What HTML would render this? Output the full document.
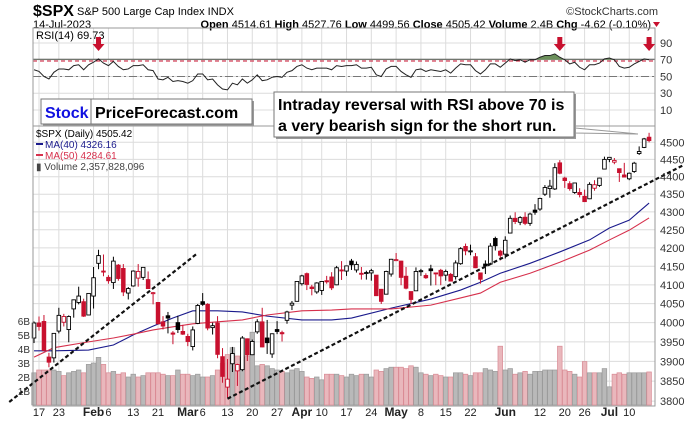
<!DOCTYPE html>
<html><head><meta charset="utf-8"><style>
html,body{margin:0;padding:0;background:#fff;width:700px;height:421px;overflow:hidden;font-family:"Liberation Sans",sans-serif}
svg text{font-family:"Liberation Sans",sans-serif}
</style></head><body>
<svg id="chart" width="700" height="421" viewBox="0 0 700 421" xmlns="http://www.w3.org/2000/svg">
<g>
<text x="33" y="16" font-size="16" font-weight="bold" fill="#000">$SPX</text>
<text x="77" y="15" font-size="11" fill="#000">S&amp;P 500 Large Cap Index  INDX</text>
<text x="658" y="15" font-size="11" fill="#333" text-anchor="end">©StockCharts.com</text>
<text x="33" y="28" font-size="11" fill="#000">14-Jul-2023</text>
<text x="651" y="28" font-size="11" fill="#000" text-anchor="end"><tspan font-weight="bold">Open</tspan> 4514.61 <tspan font-weight="bold">High</tspan> 4527.76 <tspan font-weight="bold">Low</tspan> 4499.56 <tspan font-weight="bold">Close</tspan> 4505.42 <tspan font-weight="bold">Volume</tspan> 2.4B <tspan font-weight="bold">Chg</tspan> -4.62 (-0.10%)</text>
<polygon points="653,22 660,22 656.5,27" fill="#c8102e"/>
</g>
<g id="grid"></g>
<g id="rsi"></g>
<g id="vol"></g>
<g id="ma"></g>
<g id="candles"></g>
<g id="trend"></g>
<g id="axes"></g>
<g id="annot">
<rect x="33" y="28" width="622" height="98" fill="none" stroke="#999"/>
<rect x="33" y="126" width="622" height="280" fill="none" stroke="#999"/>
<text x="36" y="39" font-size="11" fill="#000">RSI(14) 69.73</text>
<g>
<rect x="43" y="101" width="211" height="25" fill="#999"/>
<rect x="41" y="99" width="211" height="25" fill="#fff" stroke="#777"/>
<line x1="91" y1="99" x2="91" y2="124" stroke="#777"/>
<text x="45" y="118" font-size="16" font-weight="bold" fill="#1010e0">Stock</text>
<text x="95" y="118" font-size="16" font-weight="bold" fill="#000">PriceForecast.com</text>
</g>
<g>
<polygon points="575,128 638,134 575,133" fill="#fff" stroke="#999"/>
<rect x="276" y="94" width="300" height="45" fill="#999"/>
<rect x="274" y="92" width="300" height="45" fill="#fff" stroke="#777"/>
<text x="278" y="110" font-size="16" font-weight="bold" fill="#000">Intraday reversal with RSI above 70 is</text>
<text x="278" y="131" font-size="16" font-weight="bold" fill="#000">a very bearish sign for the short run.</text>
</g>
<g font-size="10">
<text x="36" y="137" fill="#000">$SPX (Daily) 4505.42</text>
<rect x="36" y="143" width="7" height="2" fill="#1a1a8c"/>
<text x="45" y="148" fill="#1a1a8c">MA(40) 4326.16</text>
<rect x="36" y="154" width="7" height="2" fill="#d6304c"/>
<text x="45" y="159" fill="#d6304c">MA(50) 4284.61</text>
<text x="36" y="170" fill="#444">▮ Volume 2,357,828,096</text>
</g>
</g>
<g id="arrows"></g>
</svg>
<script>
const NS="http://www.w3.org/2000/svg";
// Data: index 0 = 13-Jan-2023
const opens=[3960,3999,4003,3911,3909,3978,4001,3982,4036,4053,4055,4020,
4070,4158,4137,4120,4106,4153,4144,4078,4097,4118,4120,4114,4077,4053,4002,4018,3973,4000,3977,
3964,3938,3998,4055,4048,3987,3999,3912,3835,3894,3876,3879,3958,3917,3976,4002,3960,3919,3982,3974,4006,4046,4056,
4103,4130,4094,4081,4085,4111,4121,4100,4140,4137,4164,4140,4131,4133,4132,4126,4088,4075,4129,
4166,4164,4123,4082,4084,4137,4125,4143,4132,4139,4126,4128,4122,4157,4204,4190,4176,4132,4156,4156,4226,4191,
4183,4241,4282,4271,4285,4268,4305,4308,4350,4366,4365,4440,4396,4380,4355,4355,4344,4337,4367,4375,4422,
4450,4442,4423,4405,4394,4415,4467,4485,4515];
const highs=[4003,4016,4020,3922,3972,4039,4023,4019,4061,4095,4063,4077,
4148,4195,4182,4126,4176,4156,4156,4094,4139,4156,4148,4136,4081,4053,4017,4028,3978,4018,3994,
3971,3990,4049,4078,4051,4000,4017,3934,3906,3937,3894,3965,3959,3956,4009,4039,4007,3972,4004,3979,4031,4057,4110,
4127,4133,4100,4107,4110,4124,4134,4151,4164,4152,4170,4163,4148,4138,4143,4126,4089,4138,4170,
4186,4165,4148,4082,4147,4143,4131,4154,4133,4143,4141,4132,4166,4202,4212,4209,4186,4133,4166,4213,4231,4195,
4232,4290,4299,4288,4299,4298,4322,4340,4376,4391,4439,4448,4400,4387,4382,4367,4363,4384,4390,4397,4458,
4456,4454,4423,4440,4412,4443,4488,4513,4528];
const lows=[3947,3979,3926,3885,3897,3972,3990,3949,4013,4048,4015,4020,
4037,4142,4123,4103,4089,4111,4070,4061,4095,4095,4113,4089,4048,3995,3982,3972,3944,3973,3968,
3939,3928,3996,4044,3980,3969,3908,3846,3809,3873,3838,3875,3901,3916,3971,3936,3919,3909,3970,3951,3997,4033,4056,
4098,4086,4072,4076,4073,4103,4086,4099,4113,4124,4140,4133,4114,4114,4111,4071,4049,4075,4122,
4164,4099,4088,4049,4084,4124,4116,4098,4099,4099,4111,4109,4114,4154,4180,4180,4145,4103,4129,4154,4193,4166,
4171,4241,4266,4263,4263,4261,4292,4303,4345,4340,4362,4407,4368,4360,4351,4341,4328,4336,4360,4371,4422,
4442,4436,4385,4398,4390,4411,4463,4483,4500];
const closes=[3999,3990,3928,3898,3972,4019,4016,4016,4060,4070,4017,4077,
4119,4179,4136,4111,4164,4117,4081,4090,4137,4136,4147,4090,4079,3997,3991,4012,3970,3982,3970,
3951,3981,4045,4048,3986,3992,3918,3862,3855,3920,3892,3960,3917,3951,4002,3937,3948,3971,3977,3971,4028,4051,4109,
4124,4101,4090,4105,4109,4108,4092,4146,4138,4151,4154,4155,4130,4133,4138,4071,4056,4136,4169,
4168,4120,4091,4061,4136,4138,4119,4138,4131,4124,4136,4110,4159,4198,4192,4192,4146,4115,4151,4205,4206,4180,
4221,4282,4273,4284,4268,4294,4299,4338,4369,4373,4426,4410,4389,4366,4382,4349,4329,4378,4377,4396,4450,
4456,4447,4412,4399,4410,4439,4473,4510,4505];
const volumes=[2.3,2.5,2.5,2.5,2.5,2.4,2.1,2.3,2.4,2.5,2.3,2.9,
3.0,3.4,2.9,2.3,2.4,2.2,2.3,2.0,2.2,2.0,2.1,2.3,2.3,2.3,2.2,2.1,2.1,2.5,2.2,
2.2,2.1,2.2,2.0,2.0,2.1,2.5,3.0,3.6,4.1,3.5,3.4,3.5,5.2,2.8,2.9,2.8,2.6,2.5,2.4,2.3,2.5,2.6,
2.4,2.0,1.9,2.0,1.8,2.2,2.2,2.2,2.1,2.0,2.2,2.1,2.2,2.2,2.0,2.5,2.4,2.6,2.7,
2.7,2.7,2.6,2.8,2.7,2.3,2.2,2.1,2.2,2.1,2.0,2.0,2.3,2.3,2.2,2.1,2.3,2.3,2.6,2.5,2.4,4.2,
2.5,2.6,2.2,2.3,2.4,2.2,2.4,2.4,2.5,2.5,2.5,4.2,2.5,2.4,2.2,2.0,3.1,2.3,2.3,2.3,2.6,
1.3,2.2,2.3,2.2,2.3,2.3,2.3,2.3,2.36];
const rsiValues=[58,56,50,47,55,59,59,58,63,64,58,64,
67,71,66,63,68,62,58,59,63,63,64,58,57,47,46,49,44,45,44,
42,45,53,53,46,47,40,35,34,42,40,47,42,46,52,45,46,49,50,49,55,57,62,
64,60,58,60,60,60,58,63,62,63,63,64,60,60,61,52,50,59,62,
62,56,52,49,58,59,56,58,57,56,58,54,60,65,64,64,57,53,58,65,65,61,
66,71,69,70,67,70,70,73,75,75,77,73,70,65,67,61,58,64,64,66,71,
72,70,62,60,61,65,68,71,70];
const maIdx=[0,4,11,16,20,24,28,32,37,42,47,54,60,64,72,80,86,90,94,100,106,112,116,120,124];
const ma40=[3927,3927,3929,3942,3968,3991,4012,4031,4031,4028,4017,4007,4007,4012,4038,4062,4086,4107,4131,4158,4189,4222,4255,4277,4325];
const ma50=[3911,3935,3950,3960,3970,3981,3989,3997,4002,4007,4020,4031,4033,4036,4036,4046,4065,4078,4107,4131,4161,4194,4222,4249,4283];
const tickIdx=[1,5,12,15,20,25,31,34,39,44,49,54,58,63,68,73,78,83,88,95,102,107,111,116,120];
const tickLabels=["17","23","Feb","6","13","21","Mar","6","13","20","27","Apr","10","17","24","May","8","15","22","Jun","12","20","26","Jul","10"];
const priceTicks=[3800,3850,3900,3950,4000,4050,4100,4150,4200,4250,4300,4350,4400,4450,4500];
const rsiTicks=[90,70,50,30,10];
const volTicks=[1,2,3,4,5,6];
const trendIdx1=[-5,33], trendPx1=[3798,4186];
const trendIdx2=[39,131], trendPx2=[3806,4434];
const arrowIdx=[13,106,124];

const xOf=i=>34.04+i*4.96;
const yP=p=>142.3-1531*Math.log(p/4500);
const yV=v=>405-v*14;
const yR=r=>43+(90-r)*0.837;
const RED="#c8102e";
function mk(tag,attrs,parent){const e=document.createElementNS(NS,tag);for(const k in attrs)e.setAttribute(k,attrs[k]);parent.appendChild(e);return e;}

const grid=document.getElementById('grid');
tickIdx.forEach((t,k)=>{
  const l=mk('line',{x1:xOf(t),x2:xOf(t),y1:28,y2:406,stroke:"#dcdcdc","stroke-width":1},grid);
  
  
});
priceTicks.forEach(p=>{
  const l=mk('line',{x1:33,x2:655,y1:yP(p),y2:yP(p),stroke:"#dcdcdc"},grid);
  
  
});
rsiTicks.forEach(r=>{
  const l=mk('line',{x1:33,x2:655,y1:yR(r),y2:yR(r),stroke:"#dcdcdc"},grid);
  
  
});

// RSI panel
const rsiG=document.getElementById('rsi');
let l70=mk('line',{x1:33,x2:655,y1:yR(70)-0.5,y2:yR(70)-0.5,stroke:"#555"},rsiG);


let l70d=mk('line',{x1:33,x2:655,y1:yR(68.5),y2:yR(68.5),stroke:RED,"stroke-dasharray":"4,3"},rsiG);


let l50=mk('line',{x1:33,x2:655,y1:yR(50),y2:yR(50),stroke:"#777","stroke-dasharray":"8,3,2,3"},rsiG);


const defs=mk('defs',{},rsiG);
const cp=mk('clipPath',{id:'above70'},defs);
mk('rect',{x:33,y:28,width:622,height:yR(70)-28},cp);
let rpts=rsiValues.map((r,i)=>xOf(i)+","+yR(r));
let area=mk('polygon',{points:xOf(0)+","+yR(70)+" "+rpts.join(" ")+" "+xOf(rsiValues.length-1)+","+yR(70),fill:"#6b8f5a","clip-path":"url(#above70)"},rsiG);


let rl=mk('polyline',{points:rpts.join(" "),fill:"none",stroke:"#222","stroke-width":1},rsiG);



// volume
const volG=document.getElementById('vol');
volumes.forEach((v,i)=>{
  const down=i>0&&closes[i]<closes[i-1];
  const r=mk('rect',{x:xOf(i)-2.3,y:yV(v),width:4.6,height:405-yV(v),fill:down?"#e9b7bc":"#b9b9b9",stroke:down?"#d98a94":"#9a9a9a","stroke-width":0.7},volG);
  
  
});

// moving averages
const maG=document.getElementById('ma');
let m40=mk('polyline',{points:maIdx.map((t,k)=>xOf(t)+","+yP(ma40[k])).join(" "),fill:"none",stroke:"#1a1a8c","stroke-width":1.1},maG);


let m50=mk('polyline',{points:maIdx.map((t,k)=>xOf(t)+","+yP(ma50[k])).join(" "),fill:"none",stroke:"#d6304c","stroke-width":1.1},maG);



// candles
const cG=document.getElementById('candles');
closes.forEach((c,i)=>{
  const o=opens[i],h=highs[i],lo=lows[i];
  const col=(i>0&&c<closes[i-1])?RED:"#000";
  const hollow=c>=o;
  const g=mk('g',{},cG);
  
  
  const x=xOf(i);
  mk('line',{x1:x,x2:x,y1:yP(h),y2:yP(lo),stroke:col,"stroke-width":1},g);
  const top=yP(Math.max(o,c)),bot=yP(Math.min(o,c));
  mk('rect',{x:x-1.8,y:top,width:3.6,height:Math.max(1,bot-top),fill:hollow?"#fff":col,stroke:col,"stroke-width":0.9},g);
});

// trendlines
const tG=document.getElementById('trend');
[[trendIdx1,trendPx1],[trendIdx2,trendPx2]].forEach(([ti,tp])=>{
  const l=mk('line',{x1:xOf(ti[0]),y1:yP(tp[0]),x2:xOf(ti[1]),y2:yP(tp[1]),stroke:"#111","stroke-width":2.2,"stroke-dasharray":"4,2.5"},tG);
  
  
});

// axes labels
const aG=document.getElementById('axes');
priceTicks.forEach(p=>{
  const t=mk('text',{x:660,y:yP(p)+4,"font-size":11,fill:"#333"},aG);
  t.textContent=p;
  
  
});
rsiTicks.forEach(r=>{
  const t=mk('text',{x:660,y:yR(r)+4,"font-size":11,fill:"#333"},aG);
  t.textContent=r;
  
  
});
volTicks.forEach(v=>{
  const t=mk('text',{x:30,y:yV(v)+4,"font-size":10,fill:"#333","text-anchor":"end"},aG);
  t.textContent=v+"B";
  
  
});
tickIdx.forEach((ti,k)=>{
  const lab=tickLabels[k];
  const bold=isNaN(+lab);
  const t=mk('text',{x:xOf(ti),y:416,"font-size":bold?12:11,"font-weight":bold?"bold":"normal",fill:"#222","text-anchor":"middle"},aG);
  t.textContent=lab;
  
  
});

// arrows
const arG=document.getElementById('arrows');
arrowIdx.forEach(ai=>{
  const x=xOf(ai);
  const p=mk('polygon',{points:`${x-2.5},37 ${x+2.5},37 ${x+2.5},44 ${x+6},44 ${x},51 ${x-6},44 ${x-2.5},44`,fill:RED},arG);
  
  
});
</script>
</body></html>
